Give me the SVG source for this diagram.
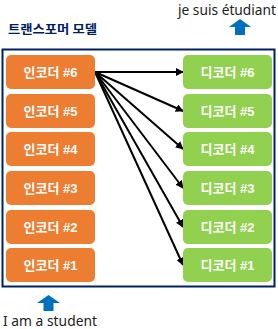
<svg xmlns="http://www.w3.org/2000/svg" width="278" height="329" viewBox="0 0 278 329">
<defs>
<style>
.enc{fill:#ED7D31}
.dec{fill:#92D050}
.bt{font-family:"Liberation Sans","Noto Sans CJK KR",sans-serif;font-size:13px;font-weight:bold;fill:#fff;text-anchor:middle}
.lbl{font-family:"Noto Sans","Liberation Sans",sans-serif;font-size:14px;fill:#222}
.conn{stroke:#000;stroke-width:2;fill:none;marker-end:url(#ah)}
.blue{fill:#0070C0}
</style>
<marker id="ah" viewBox="0 0 10 10" refX="9" refY="5" markerWidth="4" markerHeight="4" orient="auto" markerUnits="strokeWidth">
<path d="M0,0 L10,5 L0,10 z" fill="#000"/>
</marker>
</defs>
<rect width="278" height="329" fill="#fff"/>
<g id="title"><text x="8" y="34" font-family="'Noto Sans CJK KR',sans-serif" font-size="12.5" font-weight="bold" fill="#002060" textLength="89" lengthAdjust="spacingAndGlyphs">트랜스포머 모델</text></g>
<g id="output"><text class="lbl" x="178" y="15" textLength="98" lengthAdjust="spacingAndGlyphs">je suis étudiant</text>
<path class="blue" d="M240,19 L251,27 L245,27 L245,35 L235,35 L235,27 L229,27 z"/></g>
<g id="frame"><rect x="2.5" y="49.5" width="272" height="237" fill="none" stroke="#002060" stroke-width="2"/></g>
<g id="connectors">
<line class="conn" x1="95" y1="72" x2="183" y2="72"/>
<line class="conn" x1="95" y1="72" x2="183" y2="111"/>
<line class="conn" x1="95" y1="72" x2="183" y2="149"/>
<line class="conn" x1="95" y1="72" x2="183" y2="188"/>
<line class="conn" x1="95" y1="72" x2="183" y2="227"/>
<line class="conn" x1="95" y1="72" x2="183" y2="265"/>
</g>
<g id="enc6"><rect class="enc" x="6" y="55" width="89" height="34" rx="5"/><text class="bt" x="50.5" y="77">인코더 #6</text></g>
<g id="enc5"><rect class="enc" x="6" y="94" width="89" height="34" rx="5"/><text class="bt" x="50.5" y="116">인코더 #5</text></g>
<g id="enc4"><rect class="enc" x="6" y="132" width="89" height="34" rx="5"/><text class="bt" x="50.5" y="154">인코더 #4</text></g>
<g id="enc3"><rect class="enc" x="6" y="171" width="89" height="34" rx="5"/><text class="bt" x="50.5" y="193">인코더 #3</text></g>
<g id="enc2"><rect class="enc" x="6" y="210" width="89" height="34" rx="5"/><text class="bt" x="50.5" y="232">인코더 #2</text></g>
<g id="enc1"><rect class="enc" x="6" y="248" width="89" height="34" rx="5"/><text class="bt" x="50.5" y="270">인코더 #1</text></g>
<g id="dec6"><rect class="dec" x="183" y="55" width="89" height="34" rx="5"/><text class="bt" x="227.5" y="77">디코더 #6</text></g>
<g id="dec5"><rect class="dec" x="183" y="94" width="89" height="34" rx="5"/><text class="bt" x="227.5" y="116">디코더 #5</text></g>
<g id="dec4"><rect class="dec" x="183" y="132" width="89" height="34" rx="5"/><text class="bt" x="227.5" y="154">디코더 #4</text></g>
<g id="dec3"><rect class="dec" x="183" y="171" width="89" height="34" rx="5"/><text class="bt" x="227.5" y="193">디코더 #3</text></g>
<g id="dec2"><rect class="dec" x="183" y="210" width="89" height="34" rx="5"/><text class="bt" x="227.5" y="232">디코더 #2</text></g>
<g id="dec1"><rect class="dec" x="183" y="248" width="89" height="34" rx="5"/><text class="bt" x="227.5" y="270">디코더 #1</text></g>
<g id="input"><path class="blue" d="M48.5,295 L60,303 L53.5,303 L53.5,311 L43.5,311 L43.5,303 L37,303 z"/>
<text class="lbl" x="3" y="326" textLength="94" lengthAdjust="spacingAndGlyphs">I am a student</text></g>
</svg>
